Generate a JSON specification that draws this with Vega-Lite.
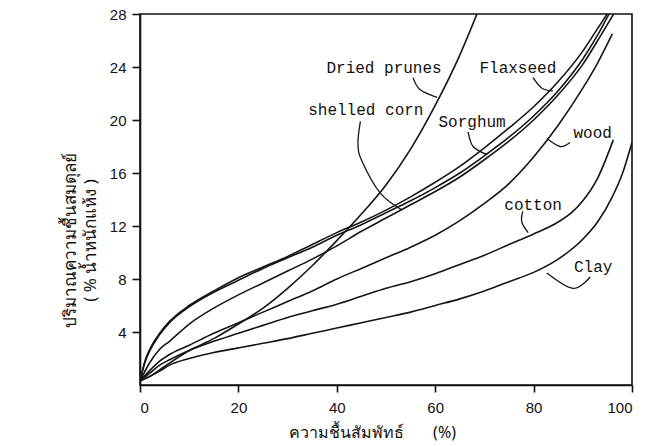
{
  "$schema": "https://vega.github.io/schema/vega-lite/v6.json",
  "width": 492,
  "height": 371,
  "autosize": {"type": "none"},
  "padding": {"left": 140, "top": 14, "right": 17, "bottom": 61},
  "background": "white",
  "config": {
    "view": {"stroke": "#111", "strokeWidth": 1.6},
    "axis": {
      "grid": false,
      "domainColor": "#111",
      "domainWidth": 1.6,
      "tickColor": "#111",
      "tickWidth": 1.6,
      "labelColor": "#111",
      "labelFont": "Liberation Sans",
      "labelFontSize": 15,
      "titleColor": "#111",
      "titleFont": "Noto Sans",
      "titleFontWeight": "normal",
      "titleFontSize": 16
    }
  },
  "datasets": {
    "curves": [
      {"s": "Flaxseed", "x": 0, "y": 0.3}, {"s": "Flaxseed", "x": 1, "y": 1.8}, {"s": "Flaxseed", "x": 2, "y": 2.7}, {"s": "Flaxseed", "x": 4, "y": 3.9}, {"s": "Flaxseed", "x": 6, "y": 4.8}, {"s": "Flaxseed", "x": 10, "y": 6.0}, {"s": "Flaxseed", "x": 15, "y": 7.1}, {"s": "Flaxseed", "x": 20, "y": 8.1}, {"s": "Flaxseed", "x": 25, "y": 8.9}, {"s": "Flaxseed", "x": 30, "y": 9.7}, {"s": "Flaxseed", "x": 35, "y": 10.6}, {"s": "Flaxseed", "x": 40, "y": 11.5}, {"s": "Flaxseed", "x": 45, "y": 12.3}, {"s": "Flaxseed", "x": 50, "y": 13.2}, {"s": "Flaxseed", "x": 55, "y": 14.2}, {"s": "Flaxseed", "x": 60, "y": 15.3}, {"s": "Flaxseed", "x": 65, "y": 16.5}, {"s": "Flaxseed", "x": 70, "y": 17.9}, {"s": "Flaxseed", "x": 75, "y": 19.4}, {"s": "Flaxseed", "x": 80, "y": 21.0}, {"s": "Flaxseed", "x": 85, "y": 22.9}, {"s": "Flaxseed", "x": 90, "y": 25.2}, {"s": "Flaxseed", "x": 93, "y": 26.9}, {"s": "Flaxseed", "x": 95.3, "y": 28.2},
      {"s": "Sorghum", "x": 0, "y": 0.3}, {"s": "Sorghum", "x": 1, "y": 1.7}, {"s": "Sorghum", "x": 2, "y": 2.6}, {"s": "Sorghum", "x": 4, "y": 3.8}, {"s": "Sorghum", "x": 6, "y": 4.7}, {"s": "Sorghum", "x": 10, "y": 5.9}, {"s": "Sorghum", "x": 15, "y": 7.0}, {"s": "Sorghum", "x": 20, "y": 7.9}, {"s": "Sorghum", "x": 25, "y": 8.8}, {"s": "Sorghum", "x": 30, "y": 9.6}, {"s": "Sorghum", "x": 35, "y": 10.4}, {"s": "Sorghum", "x": 40, "y": 11.3}, {"s": "Sorghum", "x": 45, "y": 12.1}, {"s": "Sorghum", "x": 50, "y": 13.0}, {"s": "Sorghum", "x": 55, "y": 13.9}, {"s": "Sorghum", "x": 60, "y": 14.9}, {"s": "Sorghum", "x": 65, "y": 16.0}, {"s": "Sorghum", "x": 70, "y": 17.3}, {"s": "Sorghum", "x": 75, "y": 18.7}, {"s": "Sorghum", "x": 80, "y": 20.3}, {"s": "Sorghum", "x": 85, "y": 22.2}, {"s": "Sorghum", "x": 90, "y": 24.6}, {"s": "Sorghum", "x": 93, "y": 26.4}, {"s": "Sorghum", "x": 95.6, "y": 28.2},
      {"s": "shelled corn", "x": 0, "y": 0.3}, {"s": "shelled corn", "x": 2, "y": 1.7}, {"s": "shelled corn", "x": 4, "y": 2.7}, {"s": "shelled corn", "x": 6, "y": 3.3}, {"s": "shelled corn", "x": 10, "y": 4.6}, {"s": "shelled corn", "x": 15, "y": 5.8}, {"s": "shelled corn", "x": 20, "y": 6.8}, {"s": "shelled corn", "x": 25, "y": 7.7}, {"s": "shelled corn", "x": 30, "y": 8.6}, {"s": "shelled corn", "x": 35, "y": 9.5}, {"s": "shelled corn", "x": 40, "y": 10.5}, {"s": "shelled corn", "x": 45, "y": 11.6}, {"s": "shelled corn", "x": 50, "y": 12.6}, {"s": "shelled corn", "x": 55, "y": 13.6}, {"s": "shelled corn", "x": 60, "y": 14.6}, {"s": "shelled corn", "x": 65, "y": 15.7}, {"s": "shelled corn", "x": 70, "y": 17.0}, {"s": "shelled corn", "x": 75, "y": 18.4}, {"s": "shelled corn", "x": 80, "y": 20.0}, {"s": "shelled corn", "x": 85, "y": 21.9}, {"s": "shelled corn", "x": 90, "y": 24.2}, {"s": "shelled corn", "x": 94, "y": 26.6}, {"s": "shelled corn", "x": 96.6, "y": 28.2},
      {"s": "wood", "x": 0, "y": 0.3}, {"s": "wood", "x": 2, "y": 1.1}, {"s": "wood", "x": 4, "y": 1.8}, {"s": "wood", "x": 6, "y": 2.3}, {"s": "wood", "x": 10, "y": 3.0}, {"s": "wood", "x": 15, "y": 3.9}, {"s": "wood", "x": 20, "y": 4.7}, {"s": "wood", "x": 25, "y": 5.5}, {"s": "wood", "x": 30, "y": 6.3}, {"s": "wood", "x": 35, "y": 7.1}, {"s": "wood", "x": 40, "y": 8.0}, {"s": "wood", "x": 45, "y": 8.8}, {"s": "wood", "x": 50, "y": 9.6}, {"s": "wood", "x": 55, "y": 10.4}, {"s": "wood", "x": 60, "y": 11.3}, {"s": "wood", "x": 65, "y": 12.4}, {"s": "wood", "x": 70, "y": 13.7}, {"s": "wood", "x": 75, "y": 15.2}, {"s": "wood", "x": 80, "y": 17.2}, {"s": "wood", "x": 85, "y": 19.6}, {"s": "wood", "x": 90, "y": 22.4}, {"s": "wood", "x": 93, "y": 24.3}, {"s": "wood", "x": 96, "y": 26.5},
      {"s": "cotton", "x": 0, "y": 0.3}, {"s": "cotton", "x": 2, "y": 0.9}, {"s": "cotton", "x": 4, "y": 1.5}, {"s": "cotton", "x": 6, "y": 1.9}, {"s": "cotton", "x": 10, "y": 2.6}, {"s": "cotton", "x": 15, "y": 3.3}, {"s": "cotton", "x": 20, "y": 3.9}, {"s": "cotton", "x": 25, "y": 4.5}, {"s": "cotton", "x": 30, "y": 5.1}, {"s": "cotton", "x": 35, "y": 5.6}, {"s": "cotton", "x": 40, "y": 6.1}, {"s": "cotton", "x": 45, "y": 6.7}, {"s": "cotton", "x": 50, "y": 7.3}, {"s": "cotton", "x": 55, "y": 7.8}, {"s": "cotton", "x": 60, "y": 8.4}, {"s": "cotton", "x": 65, "y": 9.1}, {"s": "cotton", "x": 70, "y": 9.8}, {"s": "cotton", "x": 75, "y": 10.6}, {"s": "cotton", "x": 80, "y": 11.4}, {"s": "cotton", "x": 85, "y": 12.3}, {"s": "cotton", "x": 88, "y": 13.1}, {"s": "cotton", "x": 90, "y": 13.9}, {"s": "cotton", "x": 93, "y": 15.6}, {"s": "cotton", "x": 96.2, "y": 18.5},
      {"s": "Clay", "x": 0, "y": 0.3}, {"s": "Clay", "x": 2, "y": 0.65}, {"s": "Clay", "x": 4, "y": 1.05}, {"s": "Clay", "x": 6, "y": 1.5}, {"s": "Clay", "x": 10, "y": 2.0}, {"s": "Clay", "x": 15, "y": 2.45}, {"s": "Clay", "x": 20, "y": 2.8}, {"s": "Clay", "x": 25, "y": 3.15}, {"s": "Clay", "x": 30, "y": 3.5}, {"s": "Clay", "x": 35, "y": 3.9}, {"s": "Clay", "x": 40, "y": 4.3}, {"s": "Clay", "x": 45, "y": 4.7}, {"s": "Clay", "x": 50, "y": 5.1}, {"s": "Clay", "x": 55, "y": 5.5}, {"s": "Clay", "x": 60, "y": 6.0}, {"s": "Clay", "x": 65, "y": 6.5}, {"s": "Clay", "x": 70, "y": 7.1}, {"s": "Clay", "x": 75, "y": 7.8}, {"s": "Clay", "x": 80, "y": 8.5}, {"s": "Clay", "x": 85, "y": 9.5}, {"s": "Clay", "x": 90, "y": 11.0}, {"s": "Clay", "x": 93, "y": 12.3}, {"s": "Clay", "x": 96, "y": 14.2}, {"s": "Clay", "x": 98, "y": 15.9}, {"s": "Clay", "x": 100, "y": 18.3},
      {"s": "Dried prunes", "x": 0, "y": 0.3}, {"s": "Dried prunes", "x": 2, "y": 0.65}, {"s": "Dried prunes", "x": 5, "y": 1.4}, {"s": "Dried prunes", "x": 10, "y": 2.6}, {"s": "Dried prunes", "x": 15, "y": 3.5}, {"s": "Dried prunes", "x": 20, "y": 4.6}, {"s": "Dried prunes", "x": 25, "y": 5.8}, {"s": "Dried prunes", "x": 30, "y": 7.3}, {"s": "Dried prunes", "x": 35, "y": 9.0}, {"s": "Dried prunes", "x": 40, "y": 10.9}, {"s": "Dried prunes", "x": 45, "y": 12.9}, {"s": "Dried prunes", "x": 50, "y": 15.1}, {"s": "Dried prunes", "x": 55, "y": 17.8}, {"s": "Dried prunes", "x": 60, "y": 21.1}, {"s": "Dried prunes", "x": 65, "y": 24.9}, {"s": "Dried prunes", "x": 68.7, "y": 28.2}
    ],
    "leaders": [
      {"id": "prunes", "i": 0, "x": 55.5, "y": 23.2}, {"id": "prunes", "i": 1, "x": 56.9, "y": 22.3}, {"id": "prunes", "i": 2, "x": 60.4, "y": 21.7},
      {"id": "flax", "i": 0, "x": 79.9, "y": 23.2}, {"id": "flax", "i": 1, "x": 81.7, "y": 22.4}, {"id": "flax", "i": 2, "x": 83.9, "y": 22.2},
      {"id": "corn", "i": 0, "x": 44.8, "y": 19.9}, {"id": "corn", "i": 1, "x": 44.3, "y": 18.2}, {"id": "corn", "i": 2, "x": 45.1, "y": 16.9}, {"id": "corn", "i": 3, "x": 48.8, "y": 14.5}, {"id": "corn", "i": 4, "x": 53.3, "y": 13.2},
      {"id": "sorghum", "i": 0, "x": 66.7, "y": 19.1}, {"id": "sorghum", "i": 1, "x": 67.7, "y": 18.0}, {"id": "sorghum", "i": 2, "x": 70.5, "y": 17.4},
      {"id": "wood", "i": 0, "x": 87.4, "y": 18.3}, {"id": "wood", "i": 1, "x": 85.4, "y": 18.0}, {"id": "wood", "i": 2, "x": 82.7, "y": 18.6},
      {"id": "cotton", "i": 0, "x": 77.8, "y": 13.1}, {"id": "cotton", "i": 1, "x": 77.6, "y": 12.3}, {"id": "cotton", "i": 2, "x": 78.9, "y": 11.5},
      {"id": "clay", "i": 0, "x": 91.5, "y": 8.15}, {"id": "clay", "i": 1, "x": 88.0, "y": 7.3}, {"id": "clay", "i": 2, "x": 82.7, "y": 8.45}
    ],
    "labels": [
      {"label": "Dried prunes", "x": 49.6, "y": 23.9},
      {"label": "Flaxseed", "x": 76.8, "y": 23.9},
      {"label": "shelled corn", "x": 45.9, "y": 20.75},
      {"label": "Sorghum", "x": 67.5, "y": 19.85},
      {"label": "wood", "x": 92, "y": 19.0},
      {"label": "cotton", "x": 79.9, "y": 13.6},
      {"label": "Clay", "x": 92.1, "y": 8.9}
    ]
  },
  "layer": [
    {
      "data": {"name": "curves"},
      "mark": {"type": "line", "interpolate": "monotone", "clip": true, "color": "#151515", "strokeWidth": 1.6},
      "encoding": {
        "x": {"field": "x", "type": "quantitative", "scale": {"domain": [0, 100], "nice": false},
          "axis": {"values": [0, 20, 40, 60, 80, 100], "tickSize": 7, "labelPadding": 8,
            "title": "ความชื้นสัมพัทธ์\u00a0\u00a0\u00a0\u00a0\u00a0\u00a0\u00a0(%)", "titleX": 232, "titleY": 47, "titleBaseline": "middle", "titleFontSize": 16}},
        "y": {"field": "y", "type": "quantitative", "scale": {"domain": [0, 28], "nice": false},
          "axis": {"values": [4, 8, 12, 16, 20, 24, 28], "tickSize": 8, "labelPadding": 6,
            "title": ["ปริมาณความชื้นสมดุลย์", "( % น้ำหนักแห้ง )"], "titleX": -70, "titleY": 226, "titleAngle": 270, "titleBaseline": "middle", "titleAlign": "center", "titleLineHeight": 20, "titleFontSize": 17}},
        "detail": {"field": "s"}
      }
    },
    {
      "data": {"name": "leaders"},
      "mark": {"type": "line", "interpolate": "cardinal", "clip": true, "color": "#151515", "strokeWidth": 1.3},
      "encoding": {
        "x": {"field": "x", "type": "quantitative"},
        "y": {"field": "y", "type": "quantitative"},
        "detail": {"field": "id"},
        "order": {"field": "i"}
      }
    },
    {
      "data": {"name": "labels"},
      "mark": {"type": "text", "font": "Liberation Mono", "fontSize": 16, "color": "#111", "baseline": "middle", "align": "center"},
      "encoding": {
        "x": {"field": "x", "type": "quantitative"},
        "y": {"field": "y", "type": "quantitative"},
        "text": {"field": "label"}
      }
    }
  ]
}
